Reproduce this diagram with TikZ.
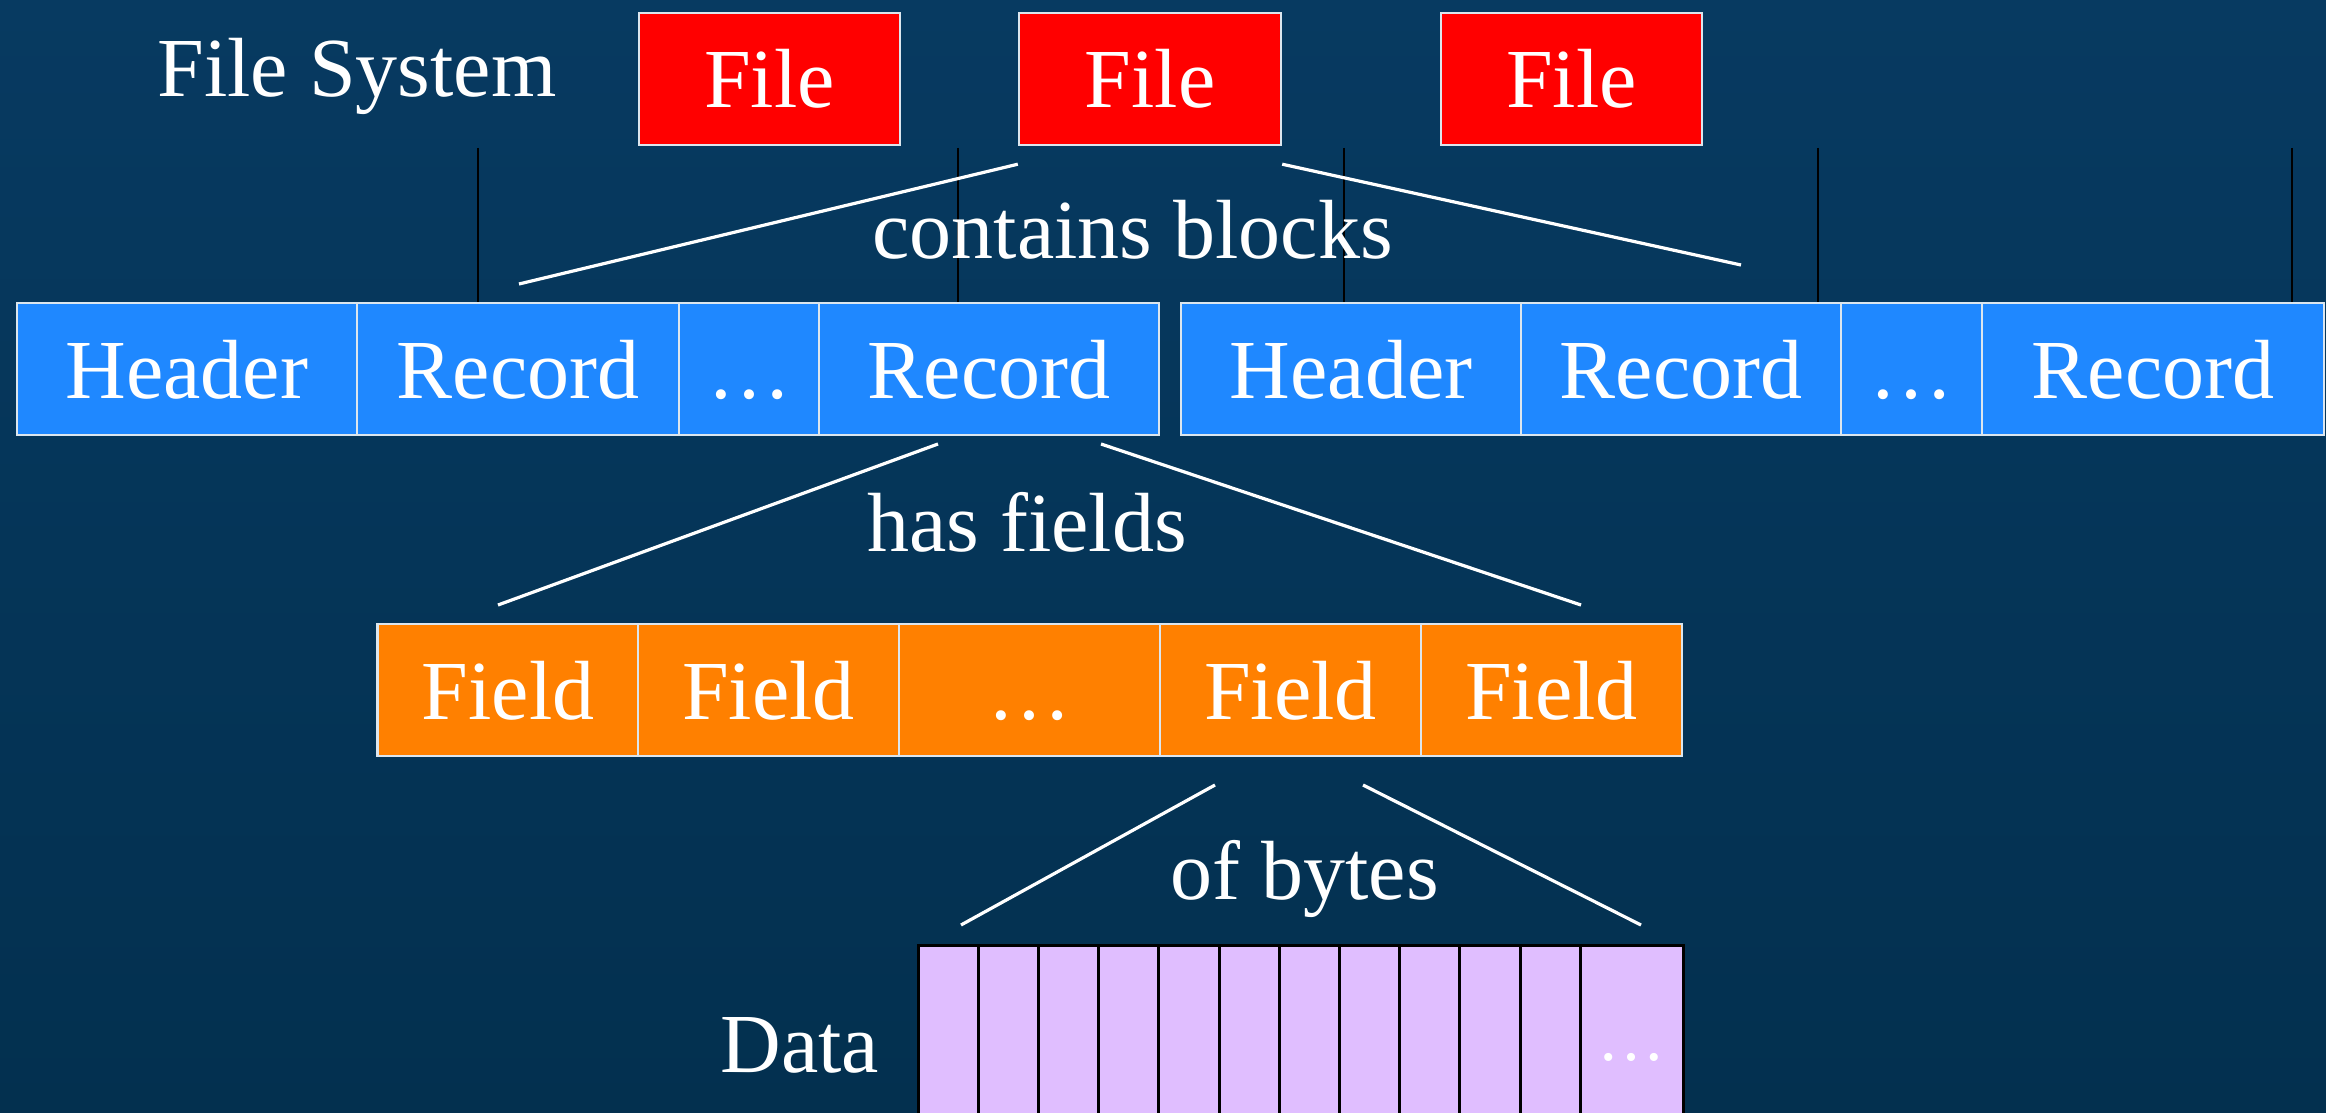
\documentclass[tikz,border=0pt]{standalone}
\usepackage{fontspec}
\setmainfont{Liberation Serif}
\usetikzlibrary{calc}
\definecolor{bgtop}{HTML}{073A61}
\definecolor{bgbot}{HTML}{03304F}
\definecolor{filered}{HTML}{FF0000}
\definecolor{blockblue}{HTML}{1F88FF}
\definecolor{fieldorange}{HTML}{FF8000}
\definecolor{bytelilac}{HTML}{E0BEFF}
\definecolor{edge}{HTML}{DCE6EE}
\begin{document}
\begin{tikzpicture}[x=0.5pt,y=-0.5pt,
  bigfont/.style={font=\fontsize{42}{48}\selectfont},
  cell/.style={bigfont, draw=edge, line width=1.2pt, inner sep=0pt, text=white,
    text height=29pt, text depth=0pt, minimum height=66pt},
  filebox/.style={cell, fill=filered},
  blockcell/.style={cell, fill=blockblue},
  fieldcell/.style={cell, fill=fieldorange, minimum width=130.5pt},
  bytecell/.style={draw=black, line width=1.5pt, fill=bytelilac, inner sep=0pt,
    minimum height=97.5pt, text=white, text height=17.5pt, text depth=0pt,
    font=\fontsize{34}{40}\selectfont},
  caption/.style={bigfont, text=white, inner sep=0pt, anchor=base west},
  link/.style={draw=white, line width=1.6pt},
  tick/.style={draw=black, line width=1pt}]

\clip (0,0) rectangle (2326,1113);
\shade[top color=bgtop, bottom color=bgbot] (0,0) rectangle (2326,1113);

% file system level
\node[caption] (fs) at (157,97) {File System};
\node[filebox, minimum width=130.5pt] (file1) at (769.5,79) {File};
\node[filebox, minimum width=131pt]   (file2) at (1150,79) {File};
\node[filebox, minimum width=130.5pt] (file3) at (1571.5,79) {File};

% block boundaries
\foreach \x in {478,958,1344,1818,2292}
  \draw[tick] (\x,148) -- (\x,302);

% blocks
\node[blockcell, minimum width=170pt]   (hdr1) at (187,369)    {Header};
\node[blockcell, minimum width=161pt]   (rec1) at (518,369)    {Record};
\node[blockcell, minimum width=70pt]    (dot1) at (749,369)    {…};
\node[blockcell, minimum width=170pt]   (rec2) at (989,369)    {Record};
\node[blockcell, minimum width=170pt]   (hdr2) at (1351,369)   {Header};
\node[blockcell, minimum width=160pt]   (rec3) at (1681,369)   {Record};
\node[blockcell, minimum width=70.5pt]  (dot2) at (1911.5,369) {…};
\node[blockcell, minimum width=171pt]   (rec4) at (2153,369)   {Record};

\node[caption] (contains) at (872,258) {contains blocks};

% fields
\node[fieldcell] (fld1) at (508,690)    {Field};
\node[fieldcell] (fld2) at (768.5,690)  {Field};
\node[fieldcell] (fld3) at (1029.5,690) {…};
\node[fieldcell] (fld4) at (1290.5,690) {Field};
\node[fieldcell] (fld5) at (1551.5,690) {Field};

\node[caption] (hasfields) at (867,551) {has fields};

% bytes
\foreach \k in {0,...,10}
  \node[bytecell, minimum width=30.1pt] (byte\k) at ({948.1+60.2*\k},1042.5) {};
\node[bytecell, minimum width=51.5pt] (byte11) at (1631.5,1042.5) {…};

\node[caption] (ofbytes) at (1170,899) {of bytes};
\node[caption] (data) at (720,1072) {Data};

% expansion lines
\coordinate (f2l) at ($(file2.south west)+(0,18)$);
\coordinate (f2r) at ($(file2.south east)+(0,18)$);
\coordinate (blkl) at (519,284);
\coordinate (blkr) at (1741,265);
\coordinate (recl) at (938,444);
\coordinate (recr) at (1101,444);
\coordinate (fldl) at (498,605);
\coordinate (fldr) at (1581,605);
\coordinate (fbl) at (1215,785);
\coordinate (fbr) at (1363,785);
\coordinate (bytl) at (961,925);
\coordinate (bytr) at (1641,925);

\draw[link] (f2l) -- (blkl);
\draw[link] (f2r) -- (blkr);
\draw[link] (recl) -- (fldl);
\draw[link] (recr) -- (fldr);
\draw[link] (fbl) -- (bytl);
\draw[link] (fbr) -- (bytr);
\end{tikzpicture}
\end{document}
